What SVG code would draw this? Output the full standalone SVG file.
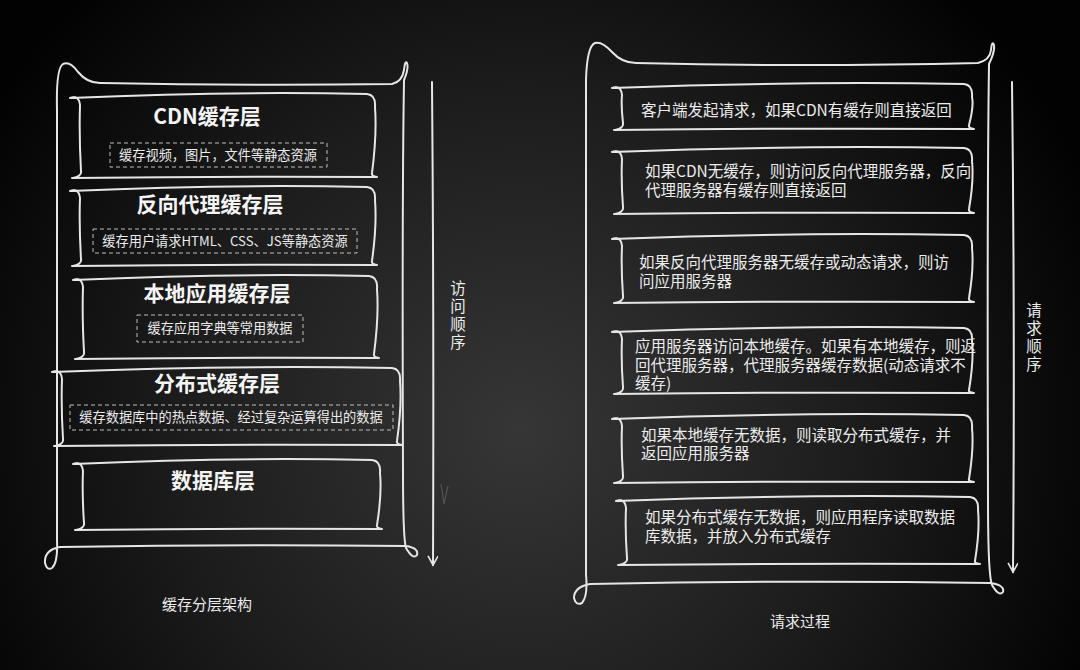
<svg xmlns="http://www.w3.org/2000/svg" width="1080" height="670" viewBox="0 0 1080 670">
<defs>
<radialGradient id="bg" cx="520" cy="430" r="620" gradientUnits="userSpaceOnUse">
<stop offset="0" stop-color="#363636"/>
<stop offset="0.55" stop-color="#1c1c1c"/>
<stop offset="1" stop-color="#020202"/>
</radialGradient>
<marker id="arr" markerWidth="12" markerHeight="12" refX="10" refY="5" orient="auto" markerUnits="userSpaceOnUse">
<path d="M1,0 L10,5 L1,10" fill="none" stroke="#e6e6e6" stroke-width="1.6"/>
</marker>
</defs>
<style>
.ln{fill:none;stroke:#e6e6e6;stroke-width:2;stroke-linecap:round;stroke-linejoin:round}
.dash{fill:none;stroke:#bdbdbd;stroke-width:1;stroke-dasharray:4 3}
.t{font-family:"Noto Sans CJK SC","Noto Sans",sans-serif;fill:#ececec}
.ttl{font-size:21px;font-weight:bold;text-anchor:middle;fill:#f4f4f4}
.sub{font-size:13.2px;text-anchor:middle}
.body{font-size:15.5px}
.cap{font-size:15px;text-anchor:middle}
.vt{font-size:15.5px;text-anchor:middle;writing-mode:vertical-rl;letter-spacing:2.5px}
</style>
<rect width="1080" height="670" fill="url(#bg)"/>

<g id="left-frame">
<path class="ln" d="M57,540 L57,110 Q56,68 63,64 Q70,61 78,72 Q88,84 102,83 Q250,86 392,84 Q402,82 404,70 Q405,60 407,63 Q409,68 404,80 Q402,200 403,470 Q403,538 406,548 Q413,560 417,555 Q419,548 406,546 Q230,544 60,547 Q44,550 45,563 Q47,571 52,568 Q58,563 57,540"/>
</g>

<g id="cdn-layer">
<path class="ln" d="M70,98 Q79,95 80,105 Q79,135 81,171 Q82,176 73,178 M72,178 Q226,176 377,177 Q371,176 372,173 Q377,135 375,107 Q376,95 367,94 Q226,91 70,98"/>
<text class="t ttl" x="207" y="124">CDN缓存层</text>
<rect class="dash" x="110" y="143" width="217" height="24"/>
<text class="t sub" x="218" y="160">缓存视频，图片，文件等静态资源</text>
</g>

<g id="proxy-layer">
<path class="ln" d="M70,191 Q79,188 80,198 Q79,225 81,259 Q82,264 73,266 M72,266 Q226,264 377,265 Q371,264 372,261 Q377,225 375,200 Q376,188 367,187 Q226,184 70,191"/>
<text class="t ttl" x="210" y="212">反向代理缓存层</text>
<rect class="dash" x="93" y="229" width="264" height="24"/>
<text class="t sub" x="225" y="246">缓存用户请求HTML、CSS、JS等静态资源</text>
</g>

<g id="local-layer">
<path class="ln" d="M73,280 Q82,277 83,287 Q82,316 84,352 Q85,357 76,359 M75,359 Q229,357 379,358 Q373,357 374,354 Q379,316 377,289 Q378,277 369,276 Q229,273 73,280"/>
<text class="t ttl" x="217" y="301">本地应用缓存层</text>
<rect class="dash" x="137" y="315" width="166" height="27"/>
<text class="t sub" x="220" y="333">缓存应用字典等常用数据</text>
</g>

<g id="dist-layer">
<path class="ln" d="M52,372 Q61,369 62,379 Q61,406 63,439 Q64,444 55,446 M54,446 Q230,444 402,445 Q396,444 397,441 Q402,406 400,381 Q401,369 392,368 Q230,365 52,372"/>
<text class="t ttl" x="217" y="391">分布式缓存层</text>
<rect class="dash" x="70" y="405" width="323" height="25"/>
<text class="t sub" x="231" y="422">缓存数据库中的热点数据、经过复杂运算得出的数据</text>
</g>

<g id="db-layer">
<path class="ln" d="M73,464 Q82,461 83,471 Q82,494 84,523 Q85,528 76,530 M75,530 Q230,528 382,529 Q376,528 377,525 Q382,494 380,473 Q381,461 372,460 Q230,457 73,464"/>
<text class="t ttl" x="213" y="488">数据库层</text>
</g>

<text class="t cap" x="207" y="610">缓存分层架构</text>

<g id="right-frame">
<path class="ln" d="M586,575 L586,80 Q587,46 595,43 Q602,41 612,52 Q622,63 636,63 Q800,67 978,63 Q990,60 991,50 Q992,40 994,45 Q995,52 989,64 Q987,200 988,500 Q988,575 992,585 Q999,597 1003,592 Q1005,585 990,583 Q790,580 590,584 Q574,587 574,598 Q576,606 582,603 Q588,596 586,575"/>
</g>

<g id="step1">
<path class="ln" d="M612,88 Q621,85 622,95 Q621,106 623,123 Q624,128 615,130 M614,130 Q796,128 974,129 Q968,128 969,125 Q974,106 972,97 Q973,85 964,84 Q796,81 612,88"/>
<text class="t body" x="641" y="116">客户端发起请求，如果CDN有缓存则直接返回</text>
</g>
<g id="step2">
<path class="ln" d="M612,152 Q621,149 622,159 Q621,180 623,207 Q624,212 615,214 M614,214 Q796,212 974,213 Q968,212 969,209 Q974,180 972,161 Q973,149 964,148 Q796,145 612,152"/>
<text class="t body" x="645" y="177">如果CDN无缓存，则访问反向代理服务器，反向<tspan x="645" dy="19">代理服务器有缓存则直接返回</tspan></text>
</g>
<g id="step3">
<path class="ln" d="M612,239 Q621,236 622,246 Q621,268 623,296 Q624,301 615,303 M614,303 Q796,301 974,302 Q968,301 969,298 Q974,268 972,248 Q973,236 964,235 Q796,232 612,239"/>
<text class="t body" x="639" y="268">如果反向代理服务器无缓存或动态请求，则访<tspan x="639" dy="19">问应用服务器</tspan></text>
</g>
<g id="step4">
<path class="ln" d="M612,332 Q621,329 622,339 Q621,360 623,387 Q624,392 615,394 M614,394 Q796,392 974,393 Q968,392 969,390 Q974,360 972,341 Q973,329 964,328 Q796,325 612,332"/>
<text class="t body" x="635" y="352">应用服务器访问本地缓存。如果有本地缓存，则返<tspan x="635" dy="19">回代理服务器，代理服务器缓存数据(动态请求不</tspan><tspan x="635" dy="18">缓存)</tspan></text>
</g>
<g id="step5">
<path class="ln" d="M612,419 Q621,416 622,426 Q621,448 623,476 Q624,481 615,483 M614,483 Q796,481 974,482 Q968,481 969,479 Q974,448 972,428 Q973,416 964,415 Q796,412 612,419"/>
<text class="t body" x="641" y="441">如果本地缓存无数据，则读取分布式缓存，并<tspan x="641" dy="18">返回应用服务器</tspan></text>
</g>
<g id="step6">
<path class="ln" d="M616,501 Q625,498 626,508 Q625,530 627,558 Q628,563 619,565 M618,565 Q801,563 980,564 Q974,563 975,561 Q980,530 978,510 Q979,498 970,497 Q801,494 616,501"/>
<text class="t body" x="645" y="523">如果分布式缓存无数据，则应用程序读取数据<tspan x="645" dy="19">库数据，并放入分布式缓存</tspan></text>
</g>

<text class="t cap" x="800" y="627">请求过程</text>

<g id="connectors">
<path class="ln" d="M432,82 Q434,320 433,565" marker-end="url(#arr)"/>
<path class="ln" d="M1012,82 Q1015,330 1013,572" marker-end="url(#arr)"/>
<path d="M441,484 Q443,496 444,504 Q446,494 448,486" fill="none" stroke="#777" stroke-width="1.2" opacity="0.5"/>
</g>

<g id="order-labels">
<text class="t vt" x="458" y="316">访问顺序</text>
<text class="t vt" x="1034" y="338">请求顺序</text>
</g>
</svg>
